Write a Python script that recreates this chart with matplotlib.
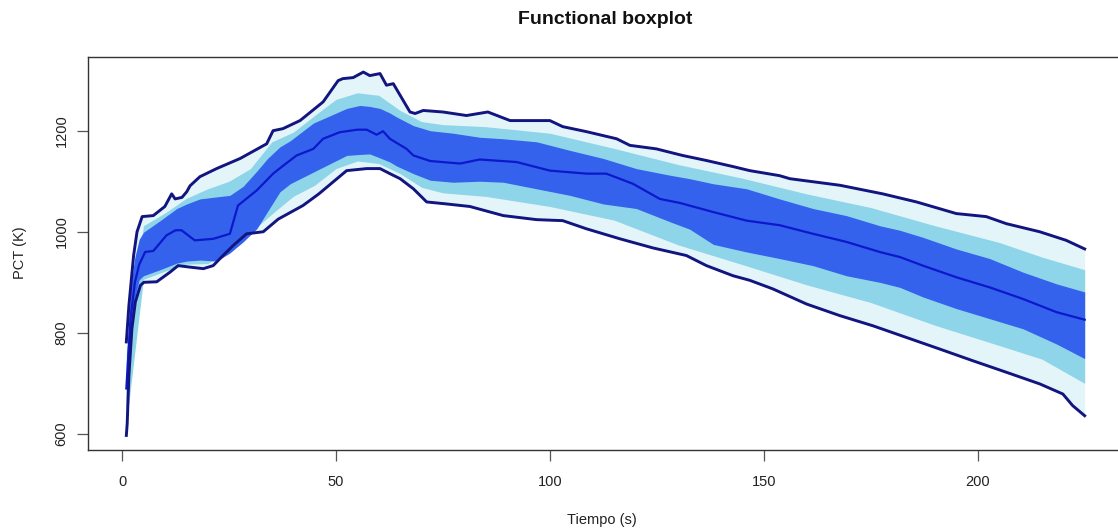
import numpy as np
import matplotlib
matplotlib.use("Agg")
import matplotlib.pyplot as plt

# ---------------- data ----------------
up_t = [1, 1.6, 2.7, 3.5, 4.7, 7.3, 10, 11.6, 12.4, 14, 15.1, 15.9, 18.2, 22.1, 27.6, 33.8, 35.3,
        37.6, 41.6, 47, 50.5, 51.6, 54, 56.4, 57.9, 60.3, 61.8, 63.4, 67.3, 68.5, 70.4, 75, 80.5,
        85.5, 90.7, 100, 103, 108.6, 115.6, 118.7, 124.9, 131, 136.6, 142.8, 146.7, 153.7, 156.1,
        167.8, 177.8, 185.7, 195, 202, 206.7, 214.5, 220.7, 225]
up_v = [782, 854, 953, 1000, 1030, 1032, 1050, 1075, 1065, 1068, 1079, 1091, 1109, 1125, 1145, 1174, 1200,
        1204, 1220, 1257, 1299, 1303, 1305, 1316, 1309, 1313, 1290, 1293, 1237, 1234, 1240, 1237, 1230,
        1237, 1220, 1220, 1208, 1198, 1184, 1171, 1164, 1151, 1141, 1129, 1121, 1111, 1105,
        1092, 1075, 1059, 1036, 1030, 1016, 1000, 983, 966]

lo_t = [1, 1.2, 1.6, 2.3, 3.1, 4.3, 5.1, 8.1, 11.2, 13.1, 15.9, 19, 21.3, 23.6, 26, 29.1, 33, 36.5,
        42.3, 46, 52.5, 57.2, 60.3, 62.6, 65, 68.1, 71.2, 75.9, 81.3, 89.1, 96.9, 103, 108.5, 116.4,
        124.1, 131.9, 136.6, 142.8, 146.7, 152.1, 160, 167.8, 175.5, 183.3, 191.1, 198.8, 206.7,
        214.5, 219.9, 222.2, 225]
lo_v = [597, 620, 715, 808, 861, 894, 900, 901, 920, 933, 930, 927, 933, 953, 973, 996, 1000, 1025,
        1052, 1075, 1121, 1125, 1125, 1115, 1105, 1085, 1059, 1055, 1050, 1032, 1024, 1022, 1006, 986,
        968, 953, 933, 913, 904, 887, 857, 834, 814, 791, 768, 745, 722,
        699, 679, 656, 636]

med_t = [1, 2, 3, 4, 5.4, 7.3, 10.4, 12.5, 13.9, 17, 21.3, 25.2, 27.1, 31.5, 35.3, 37.7, 40.8, 44.7,
         47, 50.9, 55, 57.2, 59.5, 61, 62.6, 66.5, 68.1, 72, 79, 83.6, 92.2, 100, 108.6, 113.2, 119.4,
         125.7, 130.4, 138.2, 146, 153.7, 161.5, 169.3, 177.1, 181.8, 187.2, 195, 202.8, 210.6,
         218.4, 225]
med_v = [690, 830, 900, 935, 960, 962, 993, 1003, 1003, 983, 986, 996, 1052, 1082, 1115, 1131, 1151, 1164,
         1184, 1197, 1202, 1202, 1192, 1199, 1184, 1164, 1151, 1140, 1135, 1143, 1138, 1121, 1115, 1115, 1095,
         1065, 1057, 1039, 1022, 1013, 996, 980, 960, 950, 933, 910, 890, 867,
         841, 826]

band_t = [1, 2, 3, 4, 5, 8.9, 12.8, 15.1, 18.2, 22.1, 25.2, 28.3, 31.5, 34, 36.9, 39.3, 44.7, 52.5,
          55.6, 57.9, 60.3, 62.6, 64.2, 68.1, 72, 77.4, 83.6, 89.1, 96.9, 104.7, 112.5, 120.2, 128,
          132.7, 138.2, 146, 153.7, 161.5, 169.3, 177.1, 181.8, 187.2, 195, 202.8, 210.6, 218.4, 225]
band_hi = [740, 890, 950, 985, 999, 1022, 1046, 1055, 1065, 1069, 1072, 1090, 1120, 1145, 1168, 1180, 1215, 1244,
           1250, 1248, 1244, 1235, 1227, 1210, 1200, 1195, 1187, 1184, 1178, 1161, 1145, 1125, 1112,
           1105, 1095, 1085, 1065, 1046, 1032, 1012, 1003, 989, 966, 947, 920, 897, 881]
band_lo = [650, 800, 870, 905, 913, 925, 938, 942, 944, 942, 958, 980, 1006, 1040, 1079, 1095, 1118, 1151,
           1153, 1154, 1146, 1138, 1130, 1115, 1102, 1098, 1100, 1098, 1085, 1072, 1055, 1046, 1020,
           1005, 975, 960, 947, 933, 913, 900, 890, 871, 848, 828, 808, 778, 749]

cyan_t = [1, 5, 10, 15, 20, 25, 30, 35, 40, 45, 50, 55, 60, 65, 70, 75, 85, 100, 115, 130, 145,
          160, 175, 190, 205, 215, 225]
cyan_hi = [760, 1012, 1037, 1066, 1085, 1100, 1125, 1178, 1197, 1230, 1262, 1275, 1270, 1240, 1218,
           1212, 1208, 1195, 1165, 1133, 1106, 1075, 1048, 1012, 979, 950, 925]
cyan_lo = [620, 906, 922, 936, 937, 962, 998, 1035, 1070, 1092, 1125, 1140, 1135, 1115, 1088,
           1077, 1070, 1050, 1023, 974, 935, 895, 860, 815, 775, 748, 700]

x_ticks = [0, 50, 100, 150, 200]
y_ticks = [600, 800, 1000, 1200]

# ---------------- figure ----------------
plt.rcParams['font.family'] = ['Liberation Sans', 'DejaVu Sans']
W, H = 1118, 531
fig = plt.figure(figsize=(W / 100, H / 100), dpi=100)
ax = fig.add_axes([88 / W, 1 - 450 / H, (1123 - 88) / W, (450 - 57) / H])

# common grid for fills, built from the read knots
grid = np.union1d(np.union1d(up_t, lo_t), np.union1d(band_t, cyan_t))
uw = np.interp(grid, up_t, up_v)
lw = np.interp(grid, lo_t, lo_v)
bh = np.interp(grid, band_t, band_hi)
bl = np.interp(grid, band_t, band_lo)
ch = np.interp(grid, cyan_t, cyan_hi)
cl = np.interp(grid, cyan_t, cyan_lo)

ax.fill_between(grid, lw, uw, color='#e4f5fa', lw=0, zorder=1)
ax.fill_between(grid, cl, ch, color='#8fd5ea', lw=0, zorder=2)
ax.fill_between(grid, bl, bh, color='#3562ec', lw=0, zorder=3)

ax.plot(med_t, med_v, color='#0b18cc', lw=1.6, zorder=5)
ax.plot(up_t, up_v, color='#12147f', lw=2.1, zorder=6, solid_joinstyle='round')
ax.plot(lo_t, lo_v, color='#12147f', lw=2.1, zorder=6, solid_joinstyle='round')

ax.set_xlim(-7.96, 233.96)
ax.set_ylim(568.2, 1345.8)
ax.set_xticks(x_ticks)
ax.set_yticks(y_ticks)
ax.set_xticklabels([str(v) for v in x_ticks], fontsize=10.5, color='#222222')
ax.set_yticklabels([str(v) for v in y_ticks], fontsize=10.5, color='#222222',
                   rotation=90, va='center')
ax.tick_params(direction='out', length=8, width=0.9, color='#555555', pad=10)
ax.tick_params(axis='y', pad=6)
for s in ax.spines.values():
    s.set_linewidth(1.0)
    s.set_color('#333333')

fig.text(605 / W, 1 - 19 / H, 'Functional boxplot', ha='center', va='center',
         fontsize=14, fontweight='bold', color='#111111')
fig.text(602 / W, 1 - 520 / H, 'Tiempo (s)', ha='center', va='center',
         fontsize=10.5, color='#222222')
fig.text(20 / W, 1 - 253 / H, 'PCT (K)', ha='center', va='center', rotation=90,
         fontsize=10.5, color='#222222')

fig.savefig('out.png', dpi=100)
